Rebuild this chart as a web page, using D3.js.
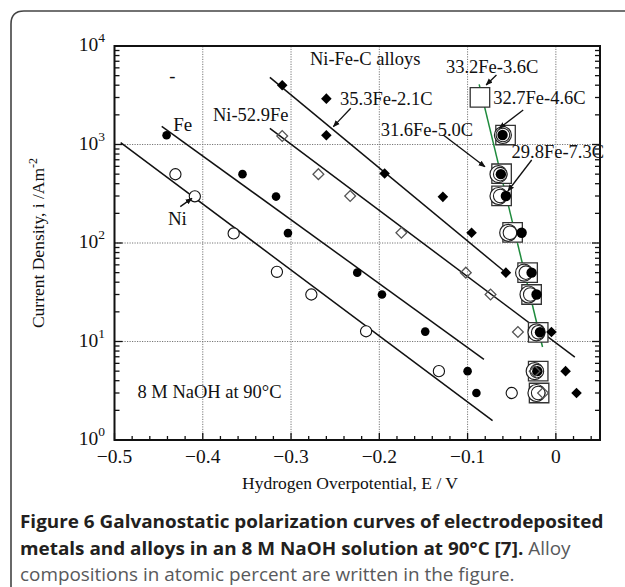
<!DOCTYPE html>
<html>
<head>
<meta charset="utf-8">
<script src="https://cdn.jsdelivr.net/npm/d3@7"></script>
<style>
  body { margin: 0; background: #fff; }
  svg { display: block; }
  .serif { font-family: "Liberation Serif", "Times New Roman", serif; fill: #111; }
  .cap { font-family: "Open Sans", "Noto Sans", sans-serif; }
</style>
</head>
<body>
<svg id="chart" width="625" height="587"></svg>
<script>
// ---- data (E in V, i in A/m2) ----
const niPts    = [[-0.431,499],[-0.409,298],[-0.365,125],[-0.316,51],[-0.277,30],[-0.215,12.7],[-0.1325,5],[-0.050,3]];
const fePts    = [[-0.441,1240],[-0.355,500],[-0.317,296],[-0.3035,126],[-0.225,50],[-0.197,30],[-0.148,12.6],[-0.100,5],[-0.090,3]];
const ni529Pts = [[-0.310,1220],[-0.269,500],[-0.233,300],[-0.175,127],[-0.102,50],[-0.074,30],[-0.043,12.5],[-0.024,5],[-0.0145,3]];
const fe353Pts = [[-0.310,4000],[-0.260,2920],[-0.260,1240],[-0.194,507],[-0.128,294],[-0.0955,127],[-0.0566,50],[-0.005,12.5],[0.011,5],[0.0234,3]];
const a332Pts  = [[-0.086,3015],[-0.057,1248],[-0.0615,505],[-0.0615,301],[-0.049,128],[-0.032,50],[-0.0275,30],[-0.020,12.4],[-0.020,5],[-0.019,3]];
const a316Pts  = [[-0.060,1248],[-0.065,500],[-0.065,300],[-0.054,127],[-0.036,50],[-0.031,30],[-0.022,12.4],[-0.024,5],[-0.022,3]];
const a327Pts  = [[-0.060,1248],[-0.063,500],[-0.063,300],[-0.052,127],[-0.034,50],[-0.029,30],[-0.020,12.4],[-0.0215,5],[-0.020,3]];
const a298Pts  = [[-0.0604,1248],[-0.0623,500],[-0.0566,300],[-0.0388,127],[-0.0275,50],[-0.0219,30],[-0.018,12.4],[-0.021,5]];

// fitted lines (end points)
const niFit    = [[-0.493,1045],[-0.0717,1.57]];
const feFit    = [[-0.4465,1530],[-0.0815,6.6]];
const ni529Fit = [[-0.324,1460],[0.0215,6.95]];
const fe353Fit = [[-0.324,4800],[-0.0555,49]];
const alloyFit = [[-0.0869,4080],[-0.0151,8.8]];

// tick labels
const xTickVals = [-0.5,-0.4,-0.3,-0.2,-0.1,0];
const yTickExps = [0,1,2,3,4];

// annotations (text at data position)
const labels = [
  {t:"Ni-Fe-C alloys",   e:-0.2786, i:6410},
  {t:"33.2Fe-3.6C",      e:-0.1245, i:5320},
  {t:"32.7Fe-4.6C",      e:-0.071,  i:2605},
  {t:"31.6Fe-5.0C",      e:-0.1985, i:1220},
  {t:"29.8Fe-7.3C",      e:-0.0502, i:729},
  {t:"35.3Fe-2.1C",      e:-0.2445, i:2518},
  {t:"Ni-52.9Fe",        e:-0.3885, i:1733},
  {t:"Fe",               e:-0.4335, i:1371},
  {t:"Ni",               e:-0.4395, i:152},
  {t:"8 M NaOH at 90°C", e:-0.474,  i:2.67},
  {t:"-",                e:-0.438,  i:4310}
];
const arrows = [
  [[-0.0673,5080],[-0.079,4018]],
  [[-0.037,2240],[-0.0642,1460]],
  [[-0.1275,1248],[-0.0803,595]],
  [[-0.0274,696],[-0.0543,337]],
  [[-0.2324,2330],[-0.2521,1517]],
  [[-0.4255,234],[-0.4123,284]]
];

const svg = d3.select("#chart");
const x = d3.scaleLinear().domain([-0.5, 0.05]).range([114.5, 600]);
const y = d3.scaleLog().domain([1, 1e4]).range([440, 46]);
const [x0, x1] = x.range(), [y0, y1] = y.range();

// outer rounded frame
svg.append("path")
  .attr("d", "M11,600 L11,24 Q11,11 24,11 L640,11")
  .attr("fill", "none").attr("stroke", "#444").attr("stroke-width", 1.6);

// grid
const g = svg.append("g");
g.selectAll(".gx").data(xTickVals.filter(d => d > -0.5)).join("line")
  .attr("x1", d => x(d)).attr("x2", d => x(d)).attr("y1", y0).attr("y2", y1)
  .attr("stroke", "#777").attr("stroke-dasharray", "1.2,1.3");
g.selectAll(".gy").data([10,100,1000]).join("line")
  .attr("y1", d => y(d)).attr("y2", d => y(d)).attr("x1", x0).attr("x2", x1)
  .attr("stroke", "#777").attr("stroke-dasharray", "1.2,1.3");

// ticks (inward)
const isMajX = v => Math.abs(v * 10 - Math.round(v * 10)) < 1e-6;
g.selectAll(".tx").data(x.ticks(30)).join("line")
  .attr("x1", d => x(d)).attr("x2", d => x(d))
  .attr("y1", y0).attr("y2", d => y0 - (isMajX(d) ? 7 : 4))
  .attr("stroke", "#111").attr("stroke-width", 1.3);
const isMajY = v => Math.abs(Math.log10(v) - Math.round(Math.log10(v))) < 1e-6;
const yt = y.ticks();
g.selectAll(".tyl").data(yt).join("line")
  .attr("y1", d => y(d)).attr("y2", d => y(d))
  .attr("x1", x0).attr("x2", d => x0 + (isMajY(d) ? 8 : 5))
  .attr("stroke", "#111").attr("stroke-width", 1.3);
g.selectAll(".tyr").data(yt).join("line")
  .attr("y1", d => y(d)).attr("y2", d => y(d))
  .attr("x1", x1).attr("x2", d => x1 - (isMajY(d) ? 8 : 5))
  .attr("stroke", "#111").attr("stroke-width", 1.3);

// frame
g.append("rect").attr("x", x0).attr("y", y1).attr("width", x1 - x0).attr("height", y0 - y1)
  .attr("fill", "none").attr("stroke", "#111").attr("stroke-width", 2);

// tick labels
g.selectAll(".xl").data(xTickVals).join("text").attr("class", "serif")
  .attr("x", d => x(d)).attr("y", y0 + 23).attr("text-anchor", "middle")
  .attr("font-size", 19.5)
  .text(d => d === 0 ? "0" : d3.format(".1f")(d));
const ylab = g.selectAll(".yl").data(yTickExps).join("text").attr("class", "serif")
  .attr("x", 105).attr("y", d => y(Math.pow(10, d)) + 5).attr("text-anchor", "end")
  .attr("font-size", 19.5);
ylab.append("tspan").text("10");
ylab.append("tspan").attr("dy", -9).attr("font-size", 13.5).text(d => d);

// axis titles
svg.append("text").attr("class", "serif").attr("x", 350).attr("y", 489)
  .attr("text-anchor", "middle").attr("font-size", 17.5).text("Hydrogen Overpotential, E / V");
const yt2 = svg.append("text").attr("class", "serif")
  .attr("transform", `translate(44,${(y0 + y1) / 2}) rotate(-90)`)
  .attr("text-anchor", "middle").attr("font-size", 17.5);
yt2.append("tspan").text("Current Density, i /Am");
yt2.append("tspan").attr("dy", -7).attr("font-size", 12).text("-2");

// fit lines
const line = d3.line().x(d => x(d[0])).y(d => y(d[1]));
[niFit, feFit, ni529Fit, fe353Fit].forEach(f => {
  svg.append("path").attr("d", line(f)).attr("fill", "none").attr("stroke", "#111").attr("stroke-width", 1.5);
});
svg.append("path").attr("d", line(alloyFit)).attr("fill", "none").attr("stroke", "#1e8a3c").attr("stroke-width", 1.5);

// markers
const pt = d => `translate(${x(d[0])},${y(d[1])})`;
svg.append("g").selectAll("path").data(a332Pts).join("path")
  .attr("d", d3.symbol(d3.symbolSquare, 380)).attr("transform", pt)
  .attr("fill", "#fff").attr("stroke", "#333").attr("stroke-width", 1.3);
svg.append("g").selectAll("circle").data(a316Pts).join("circle")
  .attr("cx", d => x(d[0])).attr("cy", d => y(d[1])).attr("r", 8.5)
  .attr("fill", "#fff").attr("stroke", "#222").attr("stroke-width", 1.2);
svg.append("g").selectAll("circle").data(a327Pts).join("circle")
  .attr("cx", d => x(d[0])).attr("cy", d => y(d[1])).attr("r", 6.8)
  .attr("fill", "#fff").attr("stroke", "#222").attr("stroke-width", 1.1);
svg.append("g").selectAll("circle").data(a298Pts).join("circle")
  .attr("cx", d => x(d[0])).attr("cy", d => y(d[1])).attr("r", 5.2)
  .attr("fill", "#000");
svg.append("g").selectAll("path").data(ni529Pts).join("path")
  .attr("d", d3.symbol(d3.symbolSquare, 58)).attr("transform", d => pt(d) + " rotate(45)")
  .attr("fill", "none").attr("stroke", "#555").attr("stroke-width", 1.3);
svg.append("g").selectAll("path").data(fe353Pts).join("path")
  .attr("d", d3.symbol(d3.symbolSquare, 56)).attr("transform", d => pt(d) + " rotate(45)")
  .attr("fill", "#000");
svg.append("g").selectAll("circle").data(fePts).join("circle")
  .attr("cx", d => x(d[0])).attr("cy", d => y(d[1])).attr("r", 4.3).attr("fill", "#000");
svg.append("g").selectAll("circle").data(niPts).join("circle")
  .attr("cx", d => x(d[0])).attr("cy", d => y(d[1])).attr("r", 5.6)
  .attr("fill", "#fff").attr("stroke", "#111").attr("stroke-width", 1.1);

// annotation labels
svg.append("g").selectAll("text").data(labels).join("text").attr("class", "serif")
  .attr("x", d => x(d.e)).attr("y", d => y(d.i))
  .attr("font-size", d => d.t === "Fe" || d.t === "Ni" ? 19 : 18.5)
  .text(d => d.t);

// arrows
const defs = svg.append("defs");
defs.append("marker").attr("id", "ah").attr("viewBox", "0 0 10 10")
  .attr("refX", 9).attr("refY", 5).attr("markerWidth", 7).attr("markerHeight", 7)
  .attr("orient", "auto").attr("markerUnits", "userSpaceOnUse")
  .append("path").attr("d", "M0,1 L10,5 L0,9 Z").attr("fill", "#111");
svg.append("g").selectAll("path").data(arrows).join("path")
  .attr("d", d => line(d)).attr("stroke", "#111").attr("stroke-width", 1.3)
  .attr("fill", "none").attr("marker-end", "url(#ah)");

// caption: narrow sans look, squeeze Open Sans horizontally to the measured line width
const capFs = 18.5, capW = 584;
const c1 = svg.append("text").attr("class", "cap")
  .attr("font-size", capFs).attr("font-weight", "bold").attr("fill", "#231f20")
  .text("Figure 6 Galvanostatic polarization curves of electrodeposited");
const squeeze = capW / c1.node().getComputedTextLength();
c1.attr("transform", `translate(20,528) scale(${squeeze},1)`);
const c2 = svg.append("text").attr("class", "cap").attr("font-size", capFs)
  .attr("transform", `translate(20,555) scale(${squeeze},1)`);
c2.append("tspan").attr("font-weight", "bold").attr("fill", "#231f20")
  .text("metals and alloys in an 8 M NaOH solution at 90°C [7].");
c2.append("tspan").attr("fill", "#58595b").text(" Alloy");
svg.append("text").attr("class", "cap").attr("font-size", capFs)
  .attr("transform", `translate(20,581) scale(${squeeze},1)`)
  .attr("fill", "#58595b").text("compositions in atomic percent are written in the figure.");
</script>
</body>
</html>
